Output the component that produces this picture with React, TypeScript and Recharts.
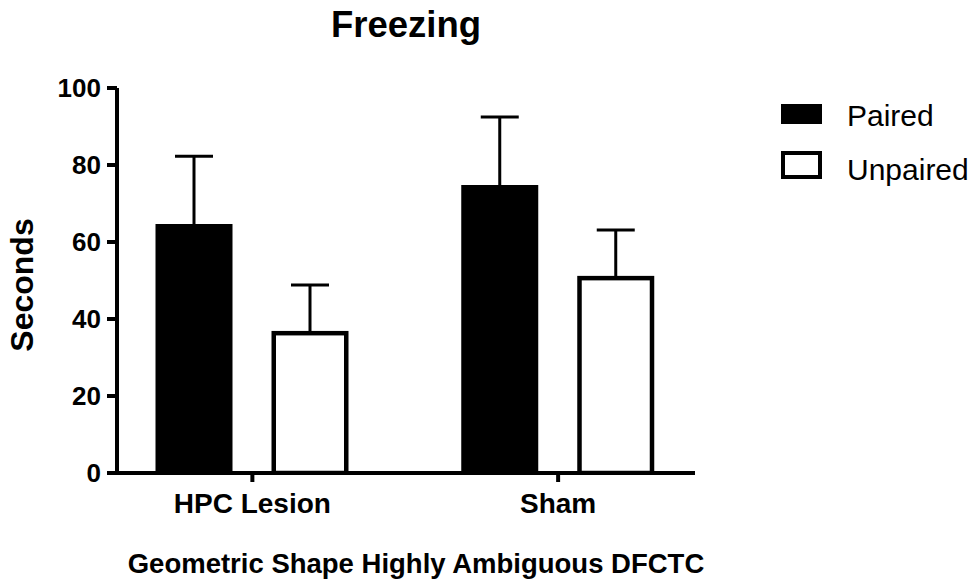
import { BarChart, Bar, XAxis, YAxis, ErrorBar } from "recharts";

const FONT = "'Liberation Sans', Arial, sans-serif";

const categories = ["HPC Lesion", "Sham"];
const paired = [64.7, 74.8];
const pairedErr = [17.6, 17.7];
const unpaired = [36.9, 51.2];
const unpairedErr = [11.9, 11.9];
const yTicks = [0, 20, 40, 60, 80, 100];

// whiskers only go up; the lower cap is tucked just inside the bar top
const LOW_TUCK = 0.5;

const data = categories.map((name, i) => ({
  name,
  Paired: paired[i],
  pairedErr: [LOW_TUCK, pairedErr[i]],
  Unpaired: unpaired[i],
  unpairedErr: [LOW_TUCK, unpairedErr[i]],
}));

const SW = 4.5;

// open bar: keep the outline inside the bar's own box
const OutlineBar = (props: any) => {
  const { x, y, width, height } = props;
  return (
    <rect
      x={x + SW / 2}
      y={y + SW / 2}
      width={Math.max(width - SW, 0)}
      height={Math.max(height - SW / 2, 0)}
      fill="#fff"
      stroke="#000"
      strokeWidth={SW}
    />
  );
};

export default function App() {
  return (
    <div style={{ position: "absolute", left: 0, top: 0, width: 977, height: 584, fontFamily: FONT, color: "#000" }}>
      <BarChart
        width={977}
        height={584}
        data={data}
        margin={{ top: 88, right: 282, bottom: 0, left: 0 }}
        barSize={77}
        barGap={39}
      >
        <XAxis
          dataKey="name"
          height={111}
          padding={{ left: -17.5, right: -16 }}
          axisLine={{ stroke: "#000", strokeWidth: 4 }}
          tickLine={{ stroke: "#000", strokeWidth: 4 }}
          tickSize={9}
          tickMargin={11}
          tick={{ fill: "#000", fontSize: 28, fontWeight: 700, fontFamily: FONT }}
        />
        <YAxis
          width={117}
          domain={[0, 100]}
          ticks={yTicks}
          allowDataOverflow
          axisLine={{ stroke: "#000", strokeWidth: 4 }}
          tickLine={{ stroke: "#000", strokeWidth: 4 }}
          tickSize={10}
          tickMargin={6}
          tick={{ fill: "#000", fontSize: 26, fontWeight: 700, fontFamily: FONT }}
        />
        <Bar dataKey="Paired" fill="#000" isAnimationActive={false}>
          <ErrorBar dataKey="pairedErr" direction="y" width={19} stroke="#000" strokeWidth={3} isAnimationActive={false} />
        </Bar>
        <Bar dataKey="Unpaired" fill="#fff" shape={OutlineBar} isAnimationActive={false}>
          <ErrorBar dataKey="unpairedErr" direction="y" width={19} stroke="#000" strokeWidth={3} isAnimationActive={false} />
        </Bar>
      </BarChart>

      <div style={{ position: "absolute", left: 206, top: 7, width: 400, textAlign: "center", fontSize: 36.5, lineHeight: "36.5px", fontWeight: 700 }}>
        Freezing
      </div>

      <div style={{ position: "absolute", left: 16, top: 550, width: 800, textAlign: "center", fontSize: 27.5, lineHeight: "27.5px", fontWeight: 700 }}>
        Geometric Shape Highly Ambiguous DFCTC
      </div>

      <div
        style={{
          position: "absolute",
          left: 22 - 100,
          top: 285 - 16,
          width: 200,
          height: 32,
          textAlign: "center",
          fontSize: 32,
          lineHeight: "32px",
          fontWeight: 700,
          transform: "rotate(-90deg)",
        }}
      >
        Seconds
      </div>

      <div style={{ position: "absolute", left: 781, top: 104, width: 41, height: 20, background: "#000" }} />
      <div style={{ position: "absolute", left: 847, top: 101, fontSize: 30, lineHeight: "30px", whiteSpace: "nowrap" }}>Paired</div>
      <div style={{ position: "absolute", left: 781, top: 151, width: 41, height: 28, boxSizing: "border-box", border: "4.5px solid #000", background: "#fff" }} />
      <div style={{ position: "absolute", left: 847, top: 154.5, fontSize: 30, lineHeight: "30px", whiteSpace: "nowrap" }}>Unpaired</div>
    </div>
  );
}
